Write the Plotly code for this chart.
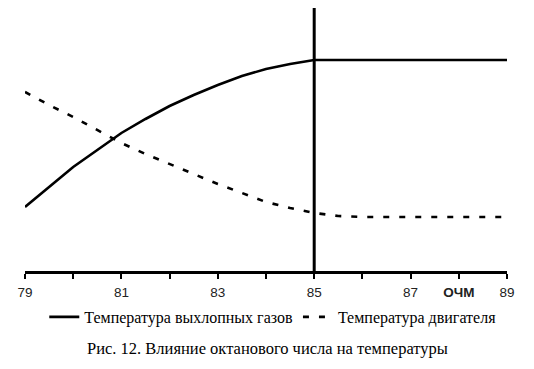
import plotly.graph_objects as go

ochm = [79, 79.5, 80, 80.5, 81, 81.5, 82, 82.5, 83, 83.5, 84, 84.5, 85,
        85.5, 86, 86.5, 87, 87.5, 88, 88.5, 89]
exhaust_temp = [64, 84, 104, 121, 138, 152, 165, 176, 186, 195, 202, 207, 211,
                211, 211, 211, 211, 211, 211, 211, 211]
engine_temp = [179, 166, 154, 141, 128, 117, 107, 97, 87, 78, 69, 63, 58,
               55, 54, 54, 54, 54, 54, 54, 54]

tick_vals = [79, 80, 81, 82, 83, 84, 85, 86, 87, 88, 89]
tick_text = ["79", "", "81", "", "83", "", "85", "", "87", "<b>ОЧМ</b>", "89"]
marker_x = 85
name_exhaust = "Температура выхлопных газов"
name_engine = "Температура двигателя"
caption = "Рис. 12. Влияние октанового числа на температуры"

fig = go.Figure()
fig.add_trace(go.Scatter(x=ochm, y=exhaust_temp, mode="lines", name=name_exhaust,
                         line=dict(color="black", width=2.6)))
fig.add_trace(go.Scatter(x=ochm, y=engine_temp, mode="lines", name=name_engine,
                         line=dict(color="black", width=2.6, dash="6px,10px")))

fig.add_shape(type="line", xref="x", yref="paper", x0=marker_x, x1=marker_x, y0=0, y1=1.0114,
              line=dict(color="black", width=3))

fig.update_layout(
    width=518, height=353,
    margin=dict(l=17, r=19, t=0, b=90, autoexpand=False),
    paper_bgcolor="white", plot_bgcolor="white",
    font=dict(family="Liberation Serif", color="black", size=16),
    showlegend=True,
    legend=dict(orientation="h", x=0.04, xanchor="left", y=-0.175, yanchor="middle",
                font=dict(family="Liberation Serif", size=16, color="black"),
                bgcolor="rgba(0,0,0,0)", itemwidth=30),
    xaxis=dict(range=[79, 89], tickmode="array", tickvals=tick_vals, ticktext=tick_text,
               showline=True, linecolor="black", linewidth=3, showgrid=False, zeroline=False,
               ticks="outside", ticklen=5, tickwidth=2, tickcolor="black",
               ticklabelstandoff=2, automargin=False,
               tickfont=dict(family="Liberation Sans", size=13.5, color="#222")),
    yaxis=dict(range=[0, 263], visible=False, showgrid=False, zeroline=False),
    annotations=[dict(text=caption, xref="paper", yref="paper", x=0.504, y=-0.293,
                      xanchor="center", yanchor="middle", showarrow=False,
                      font=dict(family="Liberation Serif", size=16.5, color="black"))],
)

fig.write_html("out.html")
